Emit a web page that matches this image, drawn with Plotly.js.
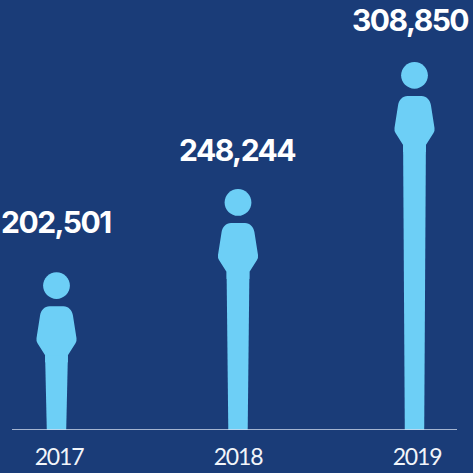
<!DOCTYPE html>
<html><head><meta charset="utf-8">
<script src="https://cdn.plot.ly/plotly-3.0.1.min.js"></script>
<style>html,body{margin:0;padding:0;background:#1a3c78}
.annotation-text{letter-spacing:-1.5px}
.xtick text{letter-spacing:-1.2px}</style>
</head><body><div id="chart" style="width:473px;height:473px"></div>
<script>
const years = ['2017', '2018', '2019'];
const visitors = [202501, 248244, 308850];

// The source figure's height grows with the square of the value, so the y axis plots value squared.
const squared = visitors.map(v => v * v);

const BG = '#1a3c78', FIG = '#6dcff6';
const W = 473, H = 473, M = {l: 12, r: 0, t: 0, b: 43};
const plotH = H - M.t - M.b;
const PX_PER_Y = 0.00387e-6;
const yMax = plotH / PX_PER_Y;
const unitsPerPx = 1 / PX_PER_Y;
const STEP = 179, FIRST = 59;
const xRange = [-(FIRST - M.l) / STEP, (W - FIRST) / STEP];
const nudge = [-2.5, 0, -2.5];
const rise = [-0.9, 2.5, -1.1];
const labelNudge = [-3, -1, -7];
const labelRise = [49, 42, 41];
const legTop = squared.map((s, i) => s + (rise[i] - 83) * unitsPerPx);

const shapes = [];
years.forEach((yr, i) => {
  const n = nudge[i];
  const base = {type: 'path', xref: 'x', yref: 'y', xsizemode: 'pixel', xanchor: i,
    fillcolor: FIG, line: {width: 0}, layer: 'above', ysizemode: 'pixel', yanchor: squared[i]};
  const px = (x, y) => (x + n) + ',' + (rise[i] - y);
  const r = 13.4, k = 7.4;
  shapes.push(Object.assign({}, base, {
    path: `M${px(-r, r)} C${px(-r, r - k)} ${px(-k, 0)} ${px(0, 0)} C${px(k, 0)} ${px(r, r - k)} ${px(r, r)} C${px(r, r + k)} ${px(k, 2 * r)} ${px(0, 2 * r)} C${px(-k, 2 * r)} ${px(-r, r + k)} ${px(-r, r)} Z`}));
  shapes.push(Object.assign({}, base, {
    path: `M${px(-7, 34)} L${px(7, 34)} C${px(12, 34)} ${px(15.6, 38)} ${px(16.4, 43)} L${px(20, 66)} Q${px(20.4, 69)} ${px(19, 71)} L${px(11.4, 83)} L${px(11.4, 90)} L${px(-11.4, 90)} L${px(-11.4, 83)} L${px(-19, 71)} Q${px(-20.4, 69)} ${px(-20, 66)} L${px(-16.4, 43)} C${px(-15.6, 38)} ${px(-12, 34)} ${px(-7, 34)} Z`}));
  shapes.push({type: 'path', xref: 'x', yref: 'y', xsizemode: 'pixel', xanchor: i,
    fillcolor: FIG, line: {width: 0}, layer: 'above',
    path: `M${-11.4 + n},${legTop[i]} L${11.4 + n},${legTop[i]} L${9.7 + n},0 L${-9.7 + n},0 Z`});
});
shapes.push({type: 'line', xref: 'paper', yref: 'y', x0: 0, x1: 445 / 461, y0: 0, y1: 0,
  line: {color: '#d3ddee', width: 1.3}, layer: 'above'});

const annotations = years.map((yr, i) => ({
  x: i, y: squared[i], xref: 'x', yref: 'y', yanchor: 'middle', xanchor: 'center',
  xshift: labelNudge[i], yshift: labelRise[i],
  text: visitors[i].toLocaleString('en-US'), showarrow: false,
  font: {family: 'Inter, sans-serif', size: 30, color: '#ffffff', weight: 700}
}));

const barWidth = 18 / STEP;
Plotly.newPlot('chart', [{
  type: 'bar', x: years, y: legTop, width: barWidth, offset: nudge.map(n => n / STEP - barWidth / 2),
  marker: {color: FIG, line: {width: 0}}, hoverinfo: 'skip'
}], {
  width: W, height: H, margin: M, paper_bgcolor: BG, plot_bgcolor: BG, showlegend: false,
  xaxis: {type: 'category', categoryorder: 'array', categoryarray: years, range: xRange,
    showgrid: false, zeroline: false, showline: false, ticks: '', ticklen: 0, ticklabelstandoff: 11,
    tickfont: {family: 'Lato, sans-serif', size: 23, color: '#f2f5fa'}},
  yaxis: {range: [0, yMax], visible: false, fixedrange: true},
  shapes, annotations
}, {displayModeBar: false, staticPlot: true});
</script></body></html>
